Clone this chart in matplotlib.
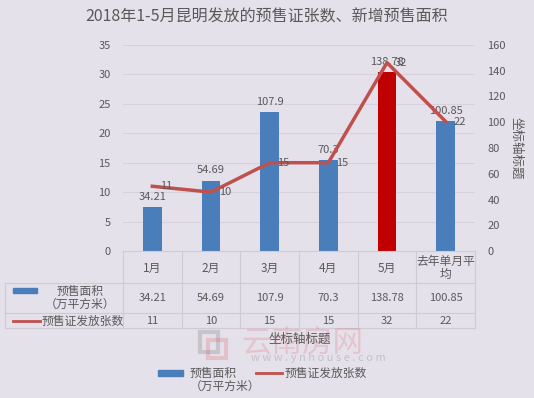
import numpy as np
import matplotlib.pyplot as plt
from matplotlib.lines import Line2D
from matplotlib.patches import Rectangle

plt.rcParams['font.family'] = ['Noto Sans CJK SC', 'DejaVu Sans']

# 数据
months = ['1月', '2月', '3月', '4月', '5月', '去年单月平\n均']
area = [34.21, 54.69, 107.9, 70.3, 138.78, 100.85]   # 预售面积（万平方米）
count = [11, 10, 15, 15, 32, 22]                      # 预售证发放张数
area_labels = ['34.21', '54.69', '107.9', '70.3', '138.78', '100.85']

bg = '#e5e1eb'
blue = '#4a7ebb'
dark_red = '#c00000'
line_red = '#c0504d'
txt = '#595959'
grid_c = '#d6d1dc'

W, H = 534, 398
fig = plt.figure(figsize=(W / 100, H / 100), dpi=100, facecolor=bg)

def fx(px):
    return px / W

def fy(py):
    return 1 - py / H

# 坐标区
x0, x1, y0, y1 = 123, 475, 251, 45
ax = fig.add_axes([fx(x0), fy(y0), fx(x1) - fx(x0), fy(y1) - fy(y0)])
ax.set_facecolor(bg)
ax2 = ax.twinx()

x = np.arange(len(months))
left_max, right_max = 35, 160

# 网格线放在柱子下面（按左轴刻度）
for g in range(5, left_max + 1, 5):
    ax2.axhline(g * right_max / left_max, color=grid_c, lw=0.8, zorder=1)

colors = [blue] * len(months)
colors[4] = dark_red
ax2.bar(x, area, width=0.32, color=colors, zorder=2)
for xi, v, s in zip(x, area, area_labels):
    ax2.text(xi, v + 4, s, ha='center', va='bottom', fontsize=8, color=txt)

ax.set_zorder(ax2.get_zorder() + 1)
ax.patch.set_visible(False)
ax.plot(x, count, color=line_red, lw=2.5, zorder=3)
for xi, v in zip(x, count):
    ax.text(xi + 0.13, v, str(v), ha='left', va='center', fontsize=8, color=txt)

ax.set_xlim(-0.5, len(months) - 0.5)
ax.set_ylim(0, left_max)
ax.set_yticks(range(0, left_max + 1, 5))
ax2.set_ylim(0, right_max)
ax2.set_yticks(range(0, right_max + 1, 20))
ax.set_xticks([])
for a in (ax, ax2):
    a.tick_params(axis='y', length=0, labelsize=8, labelcolor=txt, pad=9)
    for sp in a.spines.values():
        sp.set_visible(False)
ax2.set_facecolor(bg)
ax2.set_ylabel('坐标轴标题', rotation=-90, labelpad=3, fontsize=9, color=txt, va='bottom')

# 标题
fig.text(0.5, fy(17), '2018年1-5月昆明发放的预售证张数、新增预售面积',
         ha='center', va='center', fontsize=11.5, color=txt)

# 数据表
colw = (x1 - x0) / len(months)
line_kw = dict(color='#cfcad6', lw=0.8, transform=fig.transFigure)
for py in [283, 313, 328]:
    fig.add_artist(Line2D([fx(5), fx(x1)], [fy(py), fy(py)], **line_kw))
fig.add_artist(Line2D([fx(x0), fx(x1)], [fy(y0), fy(y0)], **line_kw))
for i in range(len(months) + 1):
    px = x0 + i * colw
    fig.add_artist(Line2D([fx(px), fx(px)], [fy(y0), fy(328)], **line_kw))
fig.add_artist(Line2D([fx(5), fx(5)], [fy(283), fy(328)], **line_kw))

for i, m in enumerate(months):
    cx = fx(x0 + (i + 0.5) * colw)
    fig.text(cx, fy(268), m, ha='center', va='center', fontsize=8.5,
             color=txt, linespacing=1.0)
    fig.text(cx, fy(298), area_labels[i], ha='center', va='center', fontsize=8, color=txt)
    fig.text(cx, fy(321), str(count[i]), ha='center', va='center', fontsize=8, color=txt)

fig.add_artist(Rectangle((fx(13), fy(293)), fx(24), fy(288) - fy(293),
                         color=blue, transform=fig.transFigure))
fig.text(fx(80), fy(298), '预售面积\n（万平方米）', ha='center', va='center',
         fontsize=8.5, color=txt, linespacing=1.0)
fig.add_artist(Line2D([fx(13), fx(40)], [fy(321), fy(321)], color=line_red, lw=2,
                      transform=fig.transFigure))
fig.text(fx(83), fy(321), '预售证发放张数', ha='center', va='center', fontsize=8.5, color=txt)

# 水印
fig.text(fx(302), fy(343), '云南房网', ha='center', va='center', fontsize=22,
         color='#e06060', alpha=0.22)
fig.text(fx(318), fy(358), 'w w w . y n h o u s e . c o m', ha='center', va='center',
         fontsize=8, color='#909090', alpha=0.4)
fig.add_artist(Rectangle((fx(200), fy(352)), fx(18), fy(332) - fy(352), fill=False,
                         ec='#909090', lw=3, alpha=0.35, transform=fig.transFigure))
fig.add_artist(Rectangle((fx(208), fy(358)), fx(18), fy(340) - fy(358), fill=False,
                         ec='#e06060', lw=3, alpha=0.25, transform=fig.transFigure))

# x 轴标题
fig.text(fx(300), fy(339), '坐标轴标题', ha='center', va='center', fontsize=9, color=txt)

# 图例
fig.add_artist(Rectangle((fx(158), fy(376)), fx(25), fy(370) - fy(376),
                         color=blue, transform=fig.transFigure))
fig.text(fx(190), fy(380), '预售面积\n（万平方米）', ha='left', va='center',
         fontsize=8.5, color=txt, linespacing=1.0)
fig.add_artist(Line2D([fx(256), fx(282)], [fy(373), fy(373)], color=line_red, lw=2,
                      transform=fig.transFigure))
fig.text(fx(285), fy(373), '预售证发放张数', ha='left', va='center', fontsize=8.5, color=txt)

fig.savefig('out.png', dpi=100, facecolor=bg)
